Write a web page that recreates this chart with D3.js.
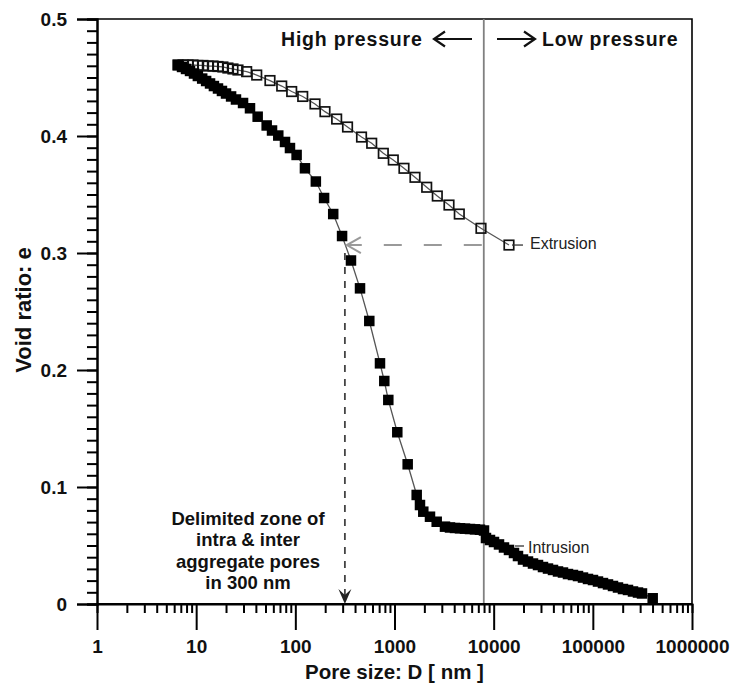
<!DOCTYPE html>
<html>
<head>
<meta charset="utf-8">
<script src="https://cdn.jsdelivr.net/npm/d3@7"></script>
<style>
  html, body { margin: 0; padding: 0; background: #fff; }
  svg { display: block; font-family: "Liberation Sans", Arial, sans-serif; }
</style>
</head>
<body>
<svg id="chart" width="732" height="691"></svg>
<script>
// Mercury intrusion porosimetry: void ratio versus pore entrance size
const intrusionD = [6.56, 7.2, 7.9, 8.67, 9.51, 10.4, 11.5, 12.6, 13.8, 15.1, 16.6, 18.2, 20.0, 22.5, 25.2,
  29.7, 34.9, 41.7, 51.4, 58.2, 67.3, 78.7, 88.3, 103, 125, 161, 195, 241, 296, 364, 449, 557, 714, 789, 866,
  1067, 1358, 1674, 1807, 1951, 2280, 2664, 3229, 3627, 4074, 4576, 5139, 5772, 6482, 7278, 7988,
  8364, 9182, 10074, 11317, 12707, 14269, 16026, 17590, 19758, 22190, 24923, 27990, 31430, 35300, 39650,
  44530, 50000, 56160, 63070, 70850, 79570, 89360, 100350, 112700, 126600, 142200, 159700, 179300, 201400,
  226200, 254100, 285300, 313100, 401400];
const intrusionE = [0.4607, 0.4590, 0.4573, 0.4556, 0.4534, 0.4513, 0.4491, 0.4470, 0.4449, 0.4427, 0.4406,
  0.4385, 0.4363, 0.4338, 0.4312, 0.4282, 0.4237, 0.4165, 0.4090, 0.4047, 0.4004, 0.3949, 0.3897, 0.3838,
  0.3724, 0.3611, 0.3470, 0.3333, 0.3145, 0.2936, 0.2698, 0.2419, 0.2057, 0.1906, 0.1744, 0.1468, 0.1194,
  0.0932, 0.0846, 0.0789, 0.0746, 0.0703, 0.0661, 0.0654, 0.0650, 0.0647, 0.0644, 0.0641, 0.0638, 0.0635,
  0.0628, 0.0564, 0.0547, 0.0530, 0.0509, 0.0483, 0.0462, 0.0436, 0.0410, 0.0380, 0.0363, 0.0346, 0.0333,
  0.0316, 0.0303, 0.0291, 0.0278, 0.0269, 0.0256, 0.0248, 0.0239, 0.0226, 0.0214, 0.0205, 0.0192, 0.0179,
  0.0167, 0.0154, 0.0141, 0.0128, 0.0120, 0.0107, 0.0098, 0.0090, 0.0049];

const extrusionD = [6.56, 7.37, 8.27, 9.29, 10.4, 11.7, 13.2, 14.8, 16.6, 18.6, 20.9, 23.5, 26.4, 32.3, 40.8,
  55.5, 72.9, 91.9, 118.7, 157.9, 199, 261, 336, 465, 589, 771, 972, 1246, 1609, 2112, 2701, 3544, 4501,
  7450, 14270];
const extrusionE = [0.4607, 0.4607, 0.4607, 0.4607, 0.4603, 0.4603, 0.4598, 0.4598, 0.4594, 0.4590, 0.4581,
  0.4573, 0.4564, 0.4550, 0.4521, 0.4474, 0.4427, 0.4380, 0.4338, 0.4274, 0.4208, 0.4145, 0.4077, 0.3991,
  0.3938, 0.3852, 0.3795, 0.3724, 0.3647, 0.3562, 0.3487, 0.3410, 0.3333, 0.3211, 0.3068];

const xTickLabels = ["1", "10", "100", "1000", "10000", "100000", "1000000"];
const yTickLabels = ["0", "0.1", "0.2", "0.3", "0.4", "0.5"];

const pressureBoundary = 7950;   // pore size splitting high / low pressure
const delimitedSize = 316;       // delimited intra / inter aggregate pore size

const svg = d3.select("#chart");
const margin = { left: 97, right: 40, top: 19, bottom: 87 };
const W = 732, H = 691;

const x = d3.scaleLog().domain([1, 1e6]).range([margin.left, W - margin.right]);
const y = d3.scaleLinear().domain([0, 0.5]).range([H - margin.bottom, margin.top]);

const x0 = x.range()[0], x1 = x.range()[1], y0 = y.range()[0], y1 = y.range()[1];

// frame: top and right edges
svg.append("path")
  .attr("d", `M${x0},${y1} H${x1} V${y0}`)
  .attr("fill", "none").attr("stroke", "#000").attr("stroke-width", 1.6);

// pressure boundary line
svg.append("line")
  .attr("x1", x(pressureBoundary)).attr("x2", x(pressureBoundary))
  .attr("y1", y1).attr("y2", y0)
  .attr("stroke", "#808080").attr("stroke-width", 1.8);

// axes
const majorX = xTickLabels.map(Number);
const minorX = [];
for (let p = 0; p < 6; p++) for (let m = 2; m <= 9; m++) minorX.push(m * Math.pow(10, p));

const gxMinor = svg.append("g").attr("transform", `translate(0,${y0})`)
  .call(d3.axisBottom(x).tickValues(minorX).tickSize(9).tickFormat(""));
const gx = svg.append("g").attr("transform", `translate(0,${y0})`)
  .call(d3.axisBottom(x).tickValues(majorX).tickSize(26).tickPadding(10)
    .tickFormat((d, i) => xTickLabels[i]));

const majorY = yTickLabels.map(Number);
const minorY = d3.range(0, 51).map(i => i / 100);
const gyMinor = svg.append("g").attr("transform", `translate(${x0},0)`)
  .call(d3.axisLeft(y).tickValues(minorY).tickSize(10).tickFormat(""));
const gy = svg.append("g").attr("transform", `translate(${x0},0)`)
  .call(d3.axisLeft(y).tickValues(majorY).tickSize(20).tickPadding(10)
    .tickFormat((d, i) => yTickLabels[i]));

[gxMinor, gx, gyMinor, gy].forEach(g => {
  g.selectAll("path.domain").attr("stroke", "#000").attr("stroke-width", 2);
  g.selectAll(".tick line").attr("stroke", "#000").attr("stroke-width", 2);
  g.selectAll(".tick text")
    .attr("fill", "#111")
    .style("font-family", "'Liberation Sans', Arial, sans-serif")
    .style("font-weight", "bold")
    .style("font-size", "19px");
});
gx.select("path.domain").attr("d", `M${x0},0H${x1}`);

// axis titles
svg.append("text")
  .attr("x", (x0 + x1) / 2).attr("y", 679)
  .attr("text-anchor", "middle")
  .style("font-weight", "bold").style("font-size", "20.5px").attr("fill", "#111")
  .text("Pore size: D [ nm ]");

svg.append("text")
  .attr("transform", `translate(23,310) rotate(-90)`)
  .attr("text-anchor", "middle").attr("dy", "0.35em")
  .style("font-weight", "bold").style("font-size", "22px").attr("fill", "#111")
  .text("Void ratio: e");

// pressure headers with arrows
svg.append("text").attr("x", 281).attr("y", 46)
  .style("font-weight", "bold").style("font-size", "19.5px").style("letter-spacing", "0.8px")
  .attr("fill", "#111").text("High pressure");
svg.append("text").attr("x", 542).attr("y", 46)
  .style("font-weight", "bold").style("font-size", "19.5px").style("letter-spacing", "0.8px")
  .attr("fill", "#111").text("Low pressure");
const arrows = svg.append("g").attr("fill", "none").attr("stroke", "#111").attr("stroke-width", 2.2);
arrows.append("path").attr("d", "M472,39 H434 M445,31.5 L434,39 L445,46.5");
arrows.append("path").attr("d", "M497,39 H535 M524,31.5 L535,39 L524,46.5");

// data series
const extrusion = extrusionD.map((d, i) => ({ d, e: extrusionE[i] }));
const intrusion = intrusionD.map((d, i) => ({ d, e: intrusionE[i] }));
const line = d3.line().x(p => x(p.d)).y(p => y(p.e));

svg.append("path").datum(extrusion).attr("d", line)
  .attr("fill", "none").attr("stroke", "#555").attr("stroke-width", 1.3);
const so = 9.5;
svg.append("g").selectAll("rect").data(extrusion).join("rect")
  .attr("x", p => x(p.d) - so / 2).attr("y", p => y(p.e) - so / 2)
  .attr("width", so).attr("height", so)
  .attr("fill", "none").attr("stroke", "#111").attr("stroke-width", 1.7);

svg.append("path").datum(intrusion).attr("d", line)
  .attr("fill", "none").attr("stroke", "#555").attr("stroke-width", 1.3);
const sf = 10.5;
svg.append("g").selectAll("rect").data(intrusion).join("rect")
  .attr("x", p => x(p.d) - sf / 2).attr("y", p => y(p.e) - sf / 2)
  .attr("width", sf).attr("height", sf).attr("fill", "#000");

// series labels
const lastExt = extrusion[extrusion.length - 1];
const ly = y(lastExt.e);
svg.append("line").attr("x1", x(lastExt.d) + 3).attr("x2", x(lastExt.d) + 14)
  .attr("y1", ly).attr("y2", ly).attr("stroke", "#333").attr("stroke-width", 1.3);
svg.append("text").attr("x", x(lastExt.d) + 21).attr("y", ly - 2).attr("dy", "0.35em")
  .style("font-size", "16px").attr("fill", "#222").text("Extrusion");

const iy = 546;
svg.append("line").attr("x1", 515).attr("x2", 524).attr("y1", iy).attr("y2", iy)
  .attr("stroke", "#333").attr("stroke-width", 1.3);
svg.append("text").attr("x", 528).attr("y", iy + 1).attr("dy", "0.35em")
  .style("font-size", "16px").attr("fill", "#222").text("Intrusion");

// level of the extrusion end carried back to the intrusion branch
const hx1 = x(pressureBoundary) - 2, hx0 = x(delimitedSize) + 2;
svg.append("line").attr("x1", hx1).attr("x2", hx0).attr("y1", ly).attr("y2", ly)
  .attr("stroke", "#9a9a9a").attr("stroke-width", 2).attr("stroke-dasharray", "18 22");
svg.append("path")
  .attr("d", `M${hx0 + 14},${ly - 8} L${hx0},${ly} L${hx0 + 14},${ly + 8}`)
  .attr("fill", "none").attr("stroke", "#9a9a9a").attr("stroke-width", 2);

// delimited pore size drop line
const vx = x(delimitedSize);
svg.append("line").attr("x1", vx).attr("x2", vx).attr("y1", ly + 8).attr("y2", y0 - 8)
  .attr("stroke", "#444").attr("stroke-width", 1.8).attr("stroke-dasharray", "7 7");
svg.append("path")
  .attr("d", `M${vx - 6.5},${y0 - 15} L${vx},${y0} L${vx + 6.5},${y0 - 15} L${vx},${y0 - 9} Z`)
  .attr("fill", "#222");

// annotation text
const note = ["Delimited zone of", "intra & inter", "aggregate pores", "in 300 nm"];
svg.append("g").selectAll("text").data(note).join("text")
  .attr("x", 248).attr("y", (d, i) => 518.5 + i * 21.5).attr("dy", "0.35em")
  .attr("text-anchor", "middle")
  .style("font-weight", "bold").style("font-size", "18.5px").attr("fill", "#111")
  .text(d => d);
</script>
</body>
</html>
